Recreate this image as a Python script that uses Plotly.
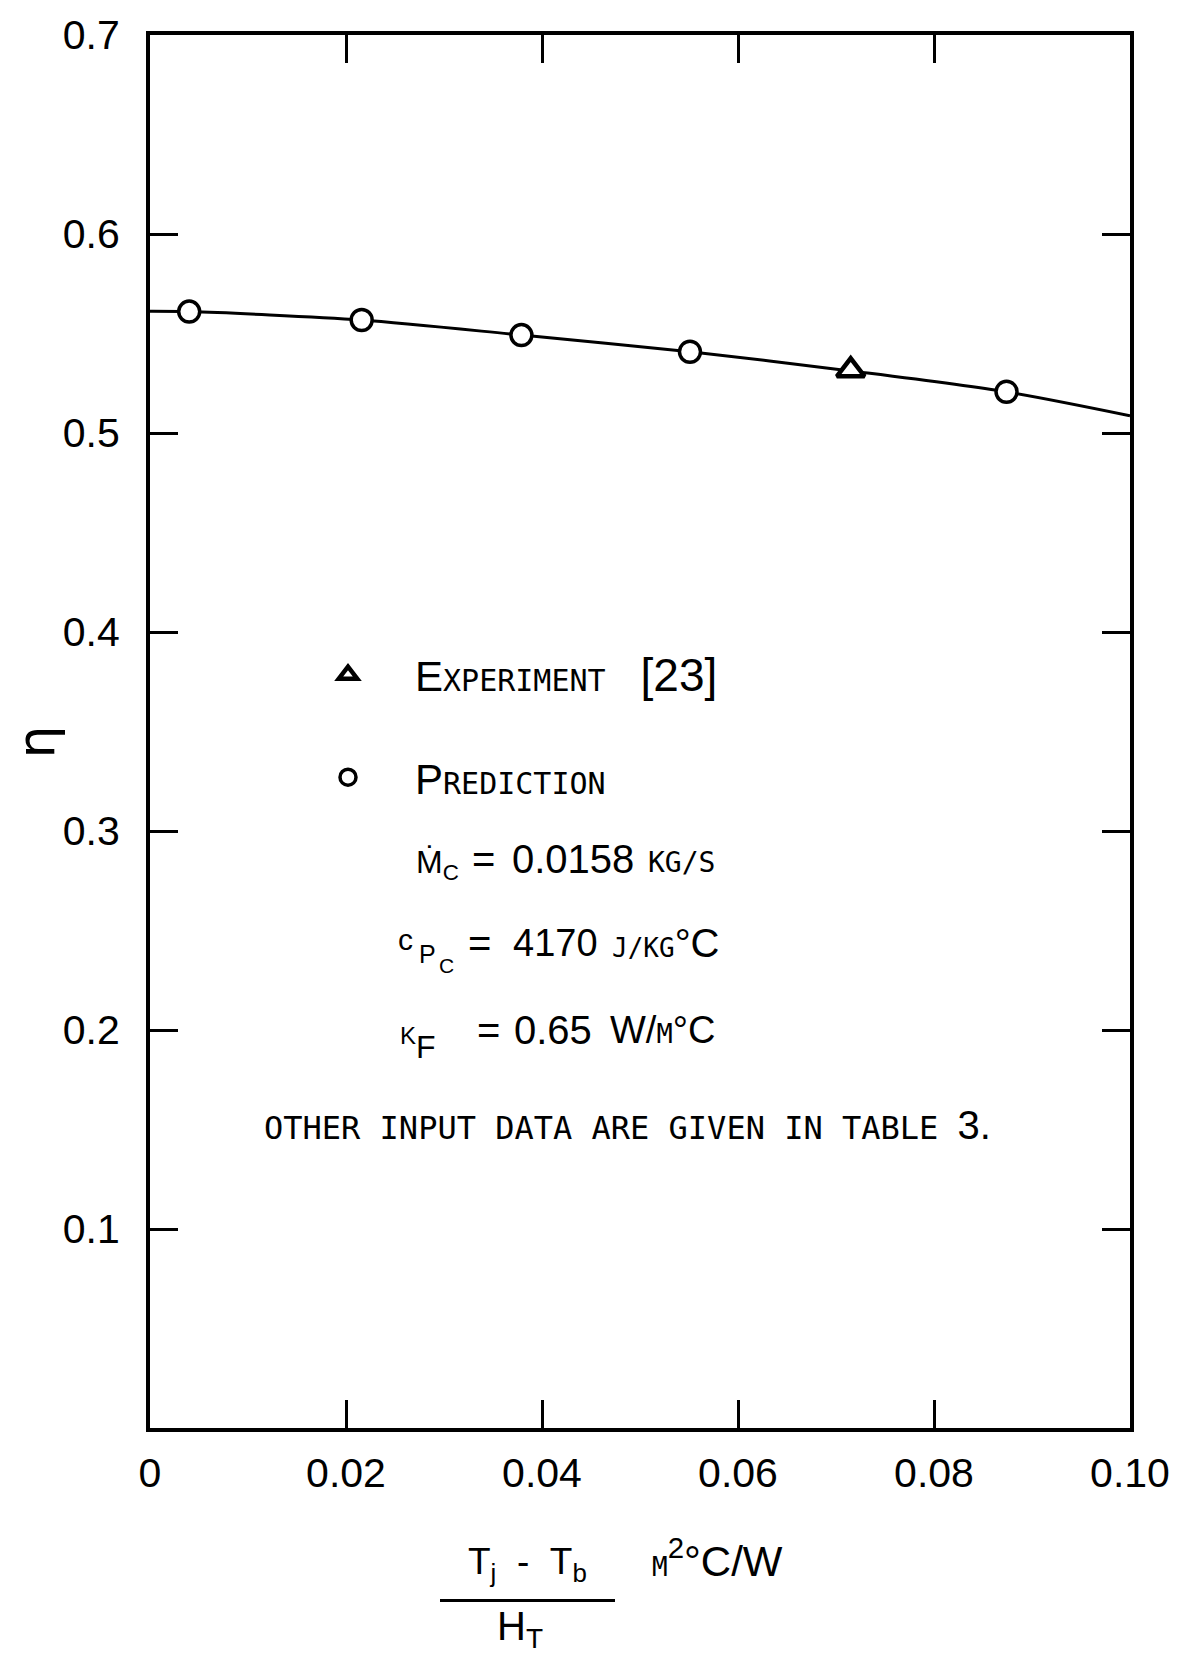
import plotly.graph_objects as go

# ---------------- data ----------------
pred_x = [0.004, 0.0216, 0.0379, 0.0551, 0.0874]
pred_y = [0.5610, 0.5568, 0.5492, 0.5408, 0.5207]
exp_x = [0.0715]
exp_y = [0.5315]
curve_x = [0.0, 0.004, 0.0216, 0.0379, 0.0551, 0.0715, 0.0874, 0.100]
curve_y = [0.5612, 0.5610, 0.5568, 0.5492, 0.5408, 0.5312, 0.5207, 0.5087]
x_tickvals = [0.0, 0.02, 0.04, 0.06, 0.08, 0.10]
x_ticktext = ["0", "0.02", "0.04", "0.06", "0.08", "0.10"]
y_tickvals = [0.1, 0.2, 0.3, 0.4, 0.5, 0.6, 0.7]
y_ticktext = ["0.1", "0.2", "0.3", "0.4", "0.5", "0.6", "0.7"]

SANS = "Liberation Sans, Arial, sans-serif"
MONO = "DejaVu Sans Mono, Liberation Mono, monospace"
NB = "\u00a0"

# plot area in pixels
L, R, T, B = 150, 1130, 30, 1428
W, H = 1182, 1656


def pxx(x):
    return (x - L) / (R - L)


def pxy(y):
    return (B - y) / (B - T)


def sc(s, size=28):
    return "<span style='font-family:%s;font-size:%dpx'>%s</span>" % (MONO, size, s)


fig = go.Figure()
fig.add_trace(go.Scatter(x=curve_x, y=curve_y, mode="lines",
                         line=dict(color="black", width=3, shape="spline", smoothing=0.8),
                         showlegend=False, hoverinfo="skip"))
fig.add_trace(go.Scatter(x=pred_x, y=pred_y, mode="markers",
                         name="P" + sc("REDICTION", 30),
                         legendgroup="pred", legendrank=2,
                         marker=dict(symbol="circle", size=21, color="white",
                                     line=dict(color="black", width=3.5))))
fig.add_trace(go.Scatter(x=exp_x, y=exp_y, mode="markers",
                         name="E" + sc("XPERIMENT", 30) + NB * 3 +
                              "<span style='font-size:46px'>[23]</span>",
                         legendgroup="exp", legendrank=1,
                         marker=dict(symbol="triangle-up", size=24, color="white",
                                     line=dict(color="black", width=4.5))))

ann = []


def add(text, x, y, size, family=SANS, xanchor="left", angle=0):
    ann.append(dict(text=text, x=pxx(x), y=pxy(y), xref="paper", yref="paper",
                    xanchor=xanchor, yanchor="middle", showarrow=False, textangle=angle,
                    font=dict(family=family, size=size, color="black")))


# parameter block
add("Ṁ<sub>C</sub>", 414, 862, 32)
add("=", 470, 857, 40)
add("0.0158", 510, 857, 40)
add("KG/S", 646, 860, 28, MONO)
add("c", 396, 938, 30)
add("P", 417, 952, 25)
add("C", 437, 964, 21)
add("=", 466, 941, 40)
add("4170", 511, 941, 38)
add(sc("J/KG", 26) + "°C", 610, 941, 40)
add("K", 398, 1034, 24)
add("F", 414, 1046, 32)
add("=", 475, 1029, 40)
add("0.65", 512, 1029, 40)
add("W/" + sc("M", 27) + "°C", 608, 1029, 38)
add("OTHER INPUT DATA ARE GIVEN IN TABLE " +
    "<span style='font-family:%s;font-size:40px'>3.</span>" % SANS, 262, 1124, 32, MONO)

# axis titles
add("η", 36, 740, 52, "DejaVu Sans", xanchor="center", angle=-90)
add("T<sub>j</sub>" + NB * 2 + "-" + NB * 2 + "T<sub>b</sub>", 527, 1564, 37, xanchor="center")
add("H<sub>T</sub>", 495, 1630, 40)
add(sc("M", 26) + "<sup>2</sup>°C/W", 650, 1558, 42)

fig.update_layout(
    width=W, height=H, autosize=False,
    margin=dict(l=L, r=W - R, t=T, b=H - B, pad=0),
    paper_bgcolor="white", plot_bgcolor="white",
    font=dict(family=SANS, size=42, color="black"),
    annotations=ann,
    shapes=[dict(type="line", xref="paper", yref="paper",
                 x0=pxx(440), x1=pxx(615), y0=pxy(1601), y1=pxy(1601),
                 line=dict(color="black", width=3))],
    legend=dict(x=pxx(281), y=pxy(638), xanchor="left", yanchor="top",
                bgcolor="rgba(0,0,0,0)", borderwidth=0, itemwidth=124,
                tracegroupgap=45, font=dict(family=SANS, size=42),
                itemsizing="trace"),
    showlegend=True,
)
fig.update_xaxes(range=[0, 0.10], tickvals=x_tickvals, ticktext=x_ticktext,
                 showgrid=False, zeroline=False, showline=True, linewidth=4,
                 linecolor="black", mirror="ticks", ticks="inside", ticklen=28,
                 tickwidth=2.5, tickcolor="black", ticklabelstandoff=6,
                 tickfont=dict(family=SANS, size=41))
fig.update_yaxes(range=[0, 0.70], tickvals=y_tickvals, ticktext=y_ticktext,
                 showgrid=False, zeroline=False, showline=True, linewidth=4,
                 linecolor="black", mirror="ticks", ticks="inside", ticklen=28,
                 tickwidth=2.5, tickcolor="black", ticklabelstandoff=18,
                 tickfont=dict(family=SANS, size=41))

fig.write_html("out.html")
